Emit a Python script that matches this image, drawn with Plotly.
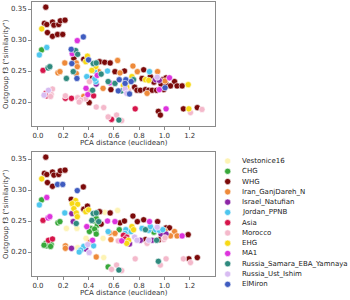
import plotly.graph_objects as go

categories = ["Vestonice16", "CHG", "WHG", "Iran_GanjDareh_N", "Israel_Natufian",
              "Jordan_PPNB", "Asia", "Morocco", "EHG", "MA1",
              "Russia_Samara_EBA_Yamnaya", "Russia_Ust_Ishim", "ElMiron"]
colors = ["#fdf3b4", "#38a83a", "#7b0a0a", "#ee8a3a", "#8c26a6",
          "#4ec6ee", "#d6154a", "#f4b9cb", "#f7d916", "#dd33dd",
          "#2f8a7e", "#d8bcf2", "#3f5cc0"]
code = {"V": "Vestonice16", "C": "CHG", "W": "WHG", "I": "Iran_GanjDareh_N",
        "N": "Israel_Natufian", "J": "Jordan_PPNB", "A": "Asia", "M": "Morocco",
        "E": "EHG", "K": "MA1", "S": "Russia_Samara_EBA_Yamnaya",
        "U": "Russia_Ust_Ishim", "L": "ElMiron"}

pca_dist = [0.062, 0.051, 0.070, 0.115, 0.126, 0.164, 0.177, 0.214, 0.075, 0.115,
            0.155, 0.196, 0.030, 0.359, 0.029, 0.070, 0.011, 0.040, 0.080, 0.094,
            0.158, 0.174, 0.212, 0.225, 0.263, 0.311, 0.298, 0.271, 0.314, 0.284,
            0.362, 0.378, 0.391, 0.400, 0.303, 0.268, 0.311, 0.279, 0.303, 0.308,
            0.386, 0.418, 0.437, 0.457, 0.426, 0.447, 0.458, 0.407, 0.380, 0.432,
            0.413, 0.394, 0.440, 0.362, 0.378, 0.314, 0.338, 0.326, 0.265, 0.217,
            0.217, 0.062, 0.070, 0.048, 0.083, 0.115, 0.105, 0.100, 0.405,
            0.461, 0.488, 0.528, 0.571, 0.630, 0.461, 0.480, 0.500, 0.469, 0.550,
            0.448, 0.461, 0.515, 0.577, 0.609, 0.649, 0.684, 0.751, 0.786, 0.836,
            0.882, 0.946, 0.555, 0.568, 0.609, 0.643, 0.695, 0.689, 0.716, 0.743,
            0.756, 0.737, 0.635, 0.662, 0.676, 0.702, 0.689, 0.716, 0.702, 0.724,
            0.764, 0.783, 0.810, 0.850, 0.876, 0.903, 0.938, 0.823, 0.850, 0.876,
            0.889, 0.917, 0.930, 0.943, 0.863, 0.520, 0.769, 0.461, 0.555, 0.622,
            0.582, 0.662, 0.640, 0.952,
            0.959, 0.987, 1.013, 1.040, 1.005, 1.080, 0.973, 1.013, 1.048, 1.100,
            1.140, 1.188, 0.960, 0.995, 1.005, 1.013, 0.968, 1.150, 1.193, 1.206,
            1.260, 1.297, 1.348]

f3_sim = [0.353, 0.327, 0.325, 0.329, 0.324, 0.325, 0.331, 0.332, 0.312, 0.306,
          0.309, 0.309, 0.318, 0.305, 0.284, 0.288, 0.276, 0.251, 0.255, 0.257,
          0.247, 0.249, 0.263, 0.238, 0.285, 0.299, 0.283, 0.278, 0.277, 0.270,
          0.269, 0.265, 0.274, 0.268, 0.263, 0.262, 0.257, 0.249, 0.246, 0.238,
          0.241, 0.238, 0.262, 0.257, 0.251, 0.250, 0.233, 0.233, 0.222, 0.219,
          0.216, 0.212, 0.210, 0.209, 0.205, 0.207, 0.203, 0.200, 0.206, 0.210,
          0.206, 0.214, 0.210, 0.211, 0.219, 0.221, 0.212, 0.209, 0.199,
          0.263, 0.265, 0.264, 0.263, 0.267, 0.254, 0.249, 0.245, 0.243, 0.250,
          0.237, 0.229, 0.222, 0.220, 0.249, 0.247, 0.250, 0.258, 0.249, 0.252,
          0.249, 0.249, 0.233, 0.231, 0.230, 0.236, 0.236, 0.230, 0.233, 0.241,
          0.236, 0.233, 0.218, 0.218, 0.227, 0.224, 0.221, 0.219, 0.214, 0.213,
          0.224, 0.219, 0.219, 0.220, 0.219, 0.219, 0.219, 0.238, 0.236, 0.235,
          0.241, 0.232, 0.236, 0.240, 0.214, 0.191, 0.189, 0.192, 0.176, 0.179,
          0.172, 0.170, 0.171, 0.185,
          0.235, 0.236, 0.239, 0.239, 0.234, 0.233, 0.229, 0.229, 0.226, 0.226,
          0.226, 0.228, 0.220, 0.220, 0.223, 0.189, 0.179, 0.189, 0.189, 0.183,
          0.191, 0.188, 0.190]

hue_top = list("WWWWWWWWWWWWELCJJASSIIISLKSKSWWEELILISILJWSEEJJMKSIKAIMMMMAMAAAUUMMM"
               "WSWWWIIISKJJNIWWIWIIWJISKSLLLEESLLSEEUMULWWWWWWWWEEWWNUIMAMMMAMS"
               "WNWWKIWWWWWWEKWLKWWEMWM")
hue_bottom = list("WWWWWWWWWWLLEWCKJAKKCCJVWLEEEEWEWEENENSVKCSCSCCCVKIUJJNVJJNIICCCAACCU"
                  "SWVWVCSWCKCCVIKWWWWWKWJIICJJCEEJMKAAAEENUUNWUNSJSJJCJUMVMICMMM"
                  "SSJJWWIINNIIKWWMMMMMWMW")

fig = go.Figure()

for axes in (("x", "y", hue_top), ("x2", "y2", hue_bottom)):
    xa, ya, hues = axes
    for cat, col in zip(categories, colors):
        xs = [x for x, h in zip(pca_dist, hues) if code[h] == cat]
        ys = [y for y, h in zip(f3_sim, hues) if code[h] == cat]
        if not xs:
            continue
        fig.add_trace(go.Scatter(
            x=xs, y=ys, mode="markers", xaxis=xa, yaxis=ya, showlegend=False,
            marker=dict(size=6.2, color=col, line=dict(color="white", width=0.6)),
            hoverinfo="skip"))

# custom compact legend drawn on a hidden axis
fig.add_trace(go.Scatter(
    x=[7.7] * len(categories), y=list(range(len(categories))), mode="markers",
    xaxis="x3", yaxis="y3", showlegend=False,
    marker=dict(size=6.2, color=colors, line=dict(color="white", width=0.6)),
    hoverinfo="skip"))

font = "DejaVu Sans, Arial, sans-serif"
axis_common = dict(showline=True, mirror=True, linecolor="#8a8a8a", linewidth=1,
                   ticks="outside", ticklen=3, tickcolor="#8a8a8a", tickwidth=1,
                   showgrid=False, zeroline=False,
                   tickfont=dict(family=font, size=7, color="#333333"))
xticks = [0.0, 0.2, 0.4, 0.6, 0.8, 1.0, 1.2]
yticks = [0.20, 0.25, 0.30, 0.35]

fig.update_layout(
    width=350, height=300,
    margin=dict(l=32, r=5, t=2, b=10),
    paper_bgcolor="white", plot_bgcolor="white",
    xaxis=dict(domain=[0, 0.5847], range=[-0.047, 1.40], anchor="y",
               tickvals=xticks, ticktext=[f"{v:.1f}" for v in xticks], **axis_common),
    yaxis=dict(domain=[0.5694, 1.0], range=[0.1613, 0.3613], anchor="x",
               tickvals=yticks, ticktext=[f"{v:.2f}" for v in yticks], **axis_common),
    xaxis2=dict(domain=[0, 0.5847], range=[-0.047, 1.40], anchor="y2",
                tickvals=xticks, ticktext=[f"{v:.1f}" for v in xticks], **axis_common),
    yaxis2=dict(domain=[0.0486, 0.4792], range=[0.1613, 0.3613], anchor="x2",
                tickvals=yticks, ticktext=[f"{v:.2f}" for v in yticks], **axis_common),
    xaxis3=dict(domain=[0.6006, 1.0], range=[0, 125], visible=False, anchor="y3"),
    yaxis3=dict(domain=[0.0019, 0.4658], range=[12.5, -0.5], visible=False, anchor="x3"),
)

ann = []
for yc in (143, 293):
    ann.append(dict(text="PCA distance (euclidean)", xref="paper", yref="paper",
                    x=(123.5 - 32) / 313, y=(290 - yc) / 288, showarrow=False,
                    xanchor="center", yanchor="middle",
                    font=dict(family=font, size=7, color="#333333")))
for yc in (64, 214):
    ann.append(dict(text="Outgroup f3 (\u201csimilarity\u201d)", xref="paper", yref="paper",
                    x=(6 - 32) / 313, y=(290 - yc) / 288, showarrow=False, textangle=-90,
                    xanchor="center", yanchor="middle",
                    font=dict(family=font, size=7, color="#333333")))
for i, cat in enumerate(categories):
    ann.append(dict(text=cat, xref="x3", yref="y3", x=20, y=i, showarrow=False,
                    xanchor="left", yanchor="middle",
                    font=dict(family=font, size=7, color="#222222")))
fig.update_layout(annotations=ann)

fig.write_html("out.html", config={"displayModeBar": False},
               post_script="document.body.style.margin='0';document.body.style.overflow='hidden';")
